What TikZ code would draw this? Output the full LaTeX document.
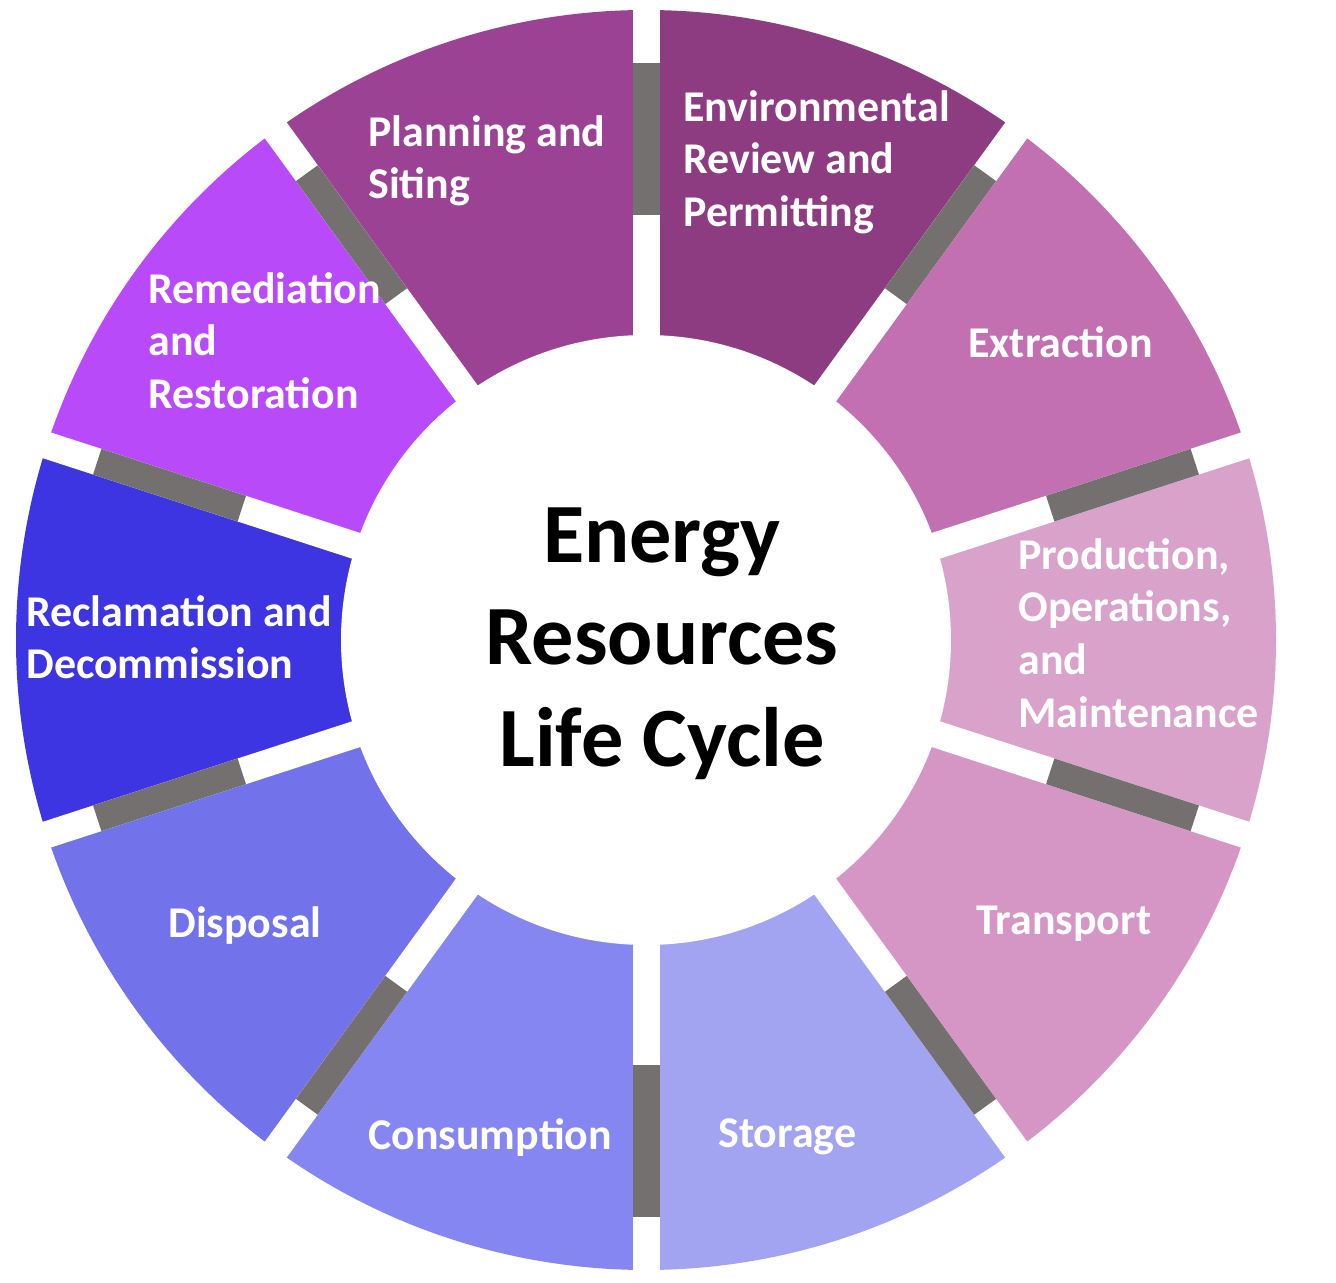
\documentclass[tikz,border=0pt]{standalone}
\usepackage{fontspec}
\setmainfont{Carlito}
\usetikzlibrary{calc}
\definecolor{envcol}{HTML}{8E3C82}
\definecolor{extcol}{HTML}{C270B2}
\definecolor{prodcol}{HTML}{D8A2CA}
\definecolor{trancol}{HTML}{D596C6}
\definecolor{storcol}{HTML}{A2A4F2}
\definecolor{conscol}{HTML}{8686F2}
\definecolor{dispcol}{HTML}{7272EA}
\definecolor{reclcol}{HTML}{3D34E2}
\definecolor{remecol}{HTML}{B84AFA}
\definecolor{plancol}{HTML}{9C4294}
\definecolor{barcol}{HTML}{747070}
\tikzset{
  seglabel/.style={anchor=north west, align=left, text=white, font=\bfseries\fontsize{25}{30}\selectfont, inner sep=0pt},
  hublabel/.style={align=center, font=\bfseries\fontsize{48}{58}\selectfont, inner sep=0pt}
}
\begin{document}
\begin{tikzpicture}[x=0.02cm,y=0.02cm]
\useasboundingbox (0,0) rectangle (1336,1282);
\coordinate (hub) at (646,642);

% ring segments
\foreach \a/\col in {54/envcol,18/extcol,-18/prodcol,-54/trancol,-90/storcol,-126/conscol,-162/dispcol,162/reclcol,126/remecol,90/plancol}{
  \fill[\col] (hub) -- ++(\a:630) arc[start angle=\a, delta angle=36, radius=630] -- cycle;
}
% gaps and bars
\foreach \a in {90,54,18,-18,-54,-90,-126,-162,162,126}{
  \draw[white, line width=0.54cm] (hub) -- ++(\a:660);
  \draw[barcol, line width=0.54cm] ($(hub)+(\a:425)$) -- ($(hub)+(\a:577)$);
}
\fill[white] (hub) circle[radius=305];

\node[hublabel] (hubtext) at (662,638) {Energy\\Resources\\Life Cycle};

\node[seglabel] (env) at (683,1192) {Environmental\\Review and\\Permitting};
\node[seglabel] (plan) at (368,1167) {Planning and\\Siting};
\node[seglabel] (ext) at (968,956) {Extraction};
\node[seglabel] (prod) at (1018,744) {Production,\\Operations,\\and\\Maintenance};
\node[seglabel] (tran) at (976,376) {Transport};
\node[seglabel] (stor) at (718,164) {Storage};
\node[seglabel] (cons) at (368,164) {Consumption};
\node[seglabel] (disp) at (168,376) {Disposal};
\node[seglabel] (recl) at (26,687) {Reclamation and\\Decommission};
\node[seglabel] (reme) at (148,1010) {Remediation\\and\\Restoration};
\end{tikzpicture}
\end{document}
